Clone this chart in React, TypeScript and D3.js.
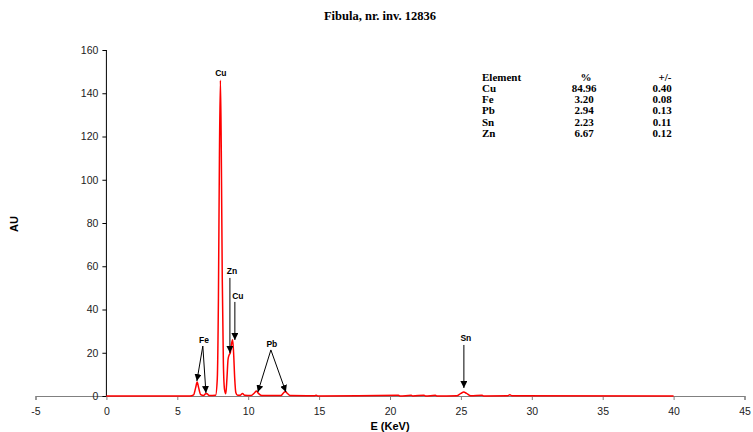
import { useEffect, useRef } from "react"
import * as d3 from "d3"

// spectrum: [energy keV, counts AU]
const spectrum: [number, number][] = [
    [0, 0], [5.9, 0], [6.15, 0.5], [6.3, 4], [6.4, 6.5], [6.5, 4], [6.65, 0.6], [6.85, 0.2],
    [7.0, 1.0], [7.1, 1.0], [7.25, 0.2], [7.7, 0.3], [7.82, 8], [7.9, 45], [7.97, 110],
    [8.04, 146], [8.1, 115], [8.17, 55], [8.25, 15], [8.33, 3], [8.42, 1], [8.5, 8],
    [8.58, 17], [8.66, 19], [8.74, 20], [8.82, 24], [8.9, 26], [8.97, 20], [9.05, 8],
    [9.13, 1.5], [9.25, 0.3], [9.45, 0.4], [9.6, 1.2], [9.75, 0.3], [10.2, 0.2],
    [10.45, 1.5], [10.58, 2.3], [10.72, 1.2], [10.95, 0.2], [12.3, 0.2], [12.5, 1.5],
    [12.62, 2.1], [12.75, 1.3], [12.95, 0.2], [14.7, 0.1], [14.8, 0.4], [14.9, 0],
    [20.6, 0.3], [20.7, 0], [21.5, 0.3], [21.6, 0], [22.4, 0.4], [22.5, 0], [23.2, 0.3],
    [23.3, 0], [24.7, 0.1], [25.0, 1.2], [25.2, 1.9], [25.4, 1.2], [25.7, 0.1],
    [26.5, 0.3], [26.6, 0], [28.3, 0.1], [28.45, 0.6], [28.6, 0.1], [40, 0]
]

// peak labels: text position and arrow targets in data units
const labels = [
    { text: "Cu", e: 8.07, au: 148, from: null, to: [] as [number, number][] },
    { text: "Fe", e: 6.88, au: 24.5, from: [6.8, 23.1], to: [[6.38, 6.9], [7.02, 1.4]] },
    { text: "Zn", e: 8.85, au: 56.4, from: [8.71, 54.6], to: [[8.71, 19.9]] },
    { text: "Cu", e: 9.27, au: 44.9, from: [9.06, 43.5], to: [[9.06, 25.9]] },
    { text: "Pb", e: 11.67, au: 22.7, from: [11.6, 21.3], to: [[10.68, 1.8], [12.66, 1.8]] },
    { text: "Sn", e: 25.35, au: 25.4, from: [25.21, 23.6], to: [[25.21, 3.7]] },
]

const elements = ["Cu", "Fe", "Pb", "Sn", "Zn"]
const percents = ["84.96", "3.20", "2.94", "2.23", "6.67"]
const errors = ["0.40", "0.08", "0.13", "0.11", "0.12"]

const xTicks = [-5, 0, 5, 10, 15, 20, 25, 30, 35, 40, 45]
const yTicks = [0, 20, 40, 60, 80, 100, 120, 140, 160]

export default function App() {
    const svgRef = useRef<SVGSVGElement>(null)
    const width = 753, height = 432

    useEffect(() => {
        const svg = d3.select(svgRef.current)
        svg.selectAll("*").remove()

        const x = d3.scaleLinear().domain([-5, 45]).range([35.5, 744.5])
        const y = d3.scaleLinear().domain([0, 160]).range([396, 50])
        const sans = "'Liberation Sans', Arial, sans-serif"
        const serif = "'Liberation Serif', 'Times New Roman', serif"

        svg.append("defs").append("marker")
            .attr("id", "arr")
            .attr("viewBox", "0 0 10 10")
            .attr("refX", 10).attr("refY", 5)
            .attr("markerWidth", 7).attr("markerHeight", 7)
            .attr("markerUnits", "userSpaceOnUse")
            .attr("orient", "auto")
            .append("path").attr("d", "M0,0L10,5L0,10Z").attr("fill", "#000")

        // title
        svg.append("text")
            .attr("x", 380).attr("y", 20)
            .attr("text-anchor", "middle")
            .style("font-family", serif).style("font-weight", "bold").style("font-size", "12.5px")
            .text("Fibula, nr. inv. 12836")

        // x axis (grey, with tick marks pointing down)
        const xAxis = svg.append("g")
            .attr("transform", `translate(0,${y(0)})`)
            .call(d3.axisBottom(x).tickValues(xTicks).tickSize(4).tickPadding(8).tickFormat(d => String(d)))
        xAxis.select(".domain").attr("stroke", "#808080").attr("stroke-width", 1.2)
        xAxis.selectAll(".tick line").attr("stroke", "#808080")
        xAxis.selectAll("text").style("font-family", sans).style("font-size", "10.5px").attr("fill", "#222")

        // y axis
        const yAxis = svg.append("g")
            .attr("transform", `translate(${x(0)},0)`)
            .call(d3.axisLeft(y).tickValues(yTicks).tickSize(4).tickPadding(4))
        yAxis.select(".domain").attr("d", `M0,${y(160)}V${y(0)}`).attr("stroke", "#000")
        yAxis.selectAll("text").style("font-family", sans).style("font-size", "10.5px").attr("fill", "#222")

        // axis titles
        svg.append("text")
            .attr("x", 390).attr("y", 430)
            .attr("text-anchor", "middle")
            .style("font-family", sans).style("font-weight", "bold").style("font-size", "11px")
            .text("E (KeV)")
        svg.append("text")
            .attr("transform", `translate(18,${y(80) + 1}) rotate(-90)`)
            .attr("text-anchor", "middle")
            .style("font-family", sans).style("font-weight", "bold").style("font-size", "11px")
            .text("AU")

        // spectrum
        const line = d3.line<[number, number]>()
            .x(d => x(d[0]))
            .y(d => y(d[1]))
            .curve(d3.curveMonotoneX)
        svg.append("path")
            .datum(spectrum)
            .attr("d", line)
            .attr("fill", "none")
            .attr("stroke", "#ff0000")
            .attr("stroke-width", 1.5)

        // peak annotations
        labels.forEach(l => {
            svg.append("text")
                .attr("x", x(l.e)).attr("y", y(l.au))
                .attr("text-anchor", "middle")
                .style("font-family", sans).style("font-weight", "bold").style("font-size", "8.5px")
                .text(l.text)
            if (l.from) {
                l.to.forEach(t => {
                    svg.append("line")
                        .attr("x1", x(l.from![0])).attr("y1", y(l.from![1]))
                        .attr("x2", x(t[0])).attr("y2", y(t[1]))
                        .attr("stroke", "#000").attr("stroke-width", 1)
                        .attr("marker-end", "url(#arr)")
                })
            }
        })

        // composition table
        const tbl = svg.append("g")
            .style("font-family", serif).style("font-weight", "bold").style("font-size", "11px")
        tbl.append("text").attr("x", 482).attr("y", 81).text("Element")
        tbl.append("text").attr("x", 586).attr("y", 81).attr("text-anchor", "middle").text("%")
        tbl.append("text").attr("x", 665).attr("y", 81).attr("text-anchor", "middle").text("+/-")
        elements.forEach((el, i) => {
            const yy = 92 + i * 11.2
            tbl.append("text").attr("x", 482).attr("y", yy).text(el)
            tbl.append("text").attr("x", 584).attr("y", yy).attr("text-anchor", "middle").text(percents[i])
            tbl.append("text").attr("x", 662).attr("y", yy).attr("text-anchor", "middle").text(errors[i])
        })
    }, [])

    return (
        <svg ref={svgRef} width={width} height={height}
            style={{ position: "absolute", left: 0, top: 0, background: "#fff" }}></svg>
    )
}
